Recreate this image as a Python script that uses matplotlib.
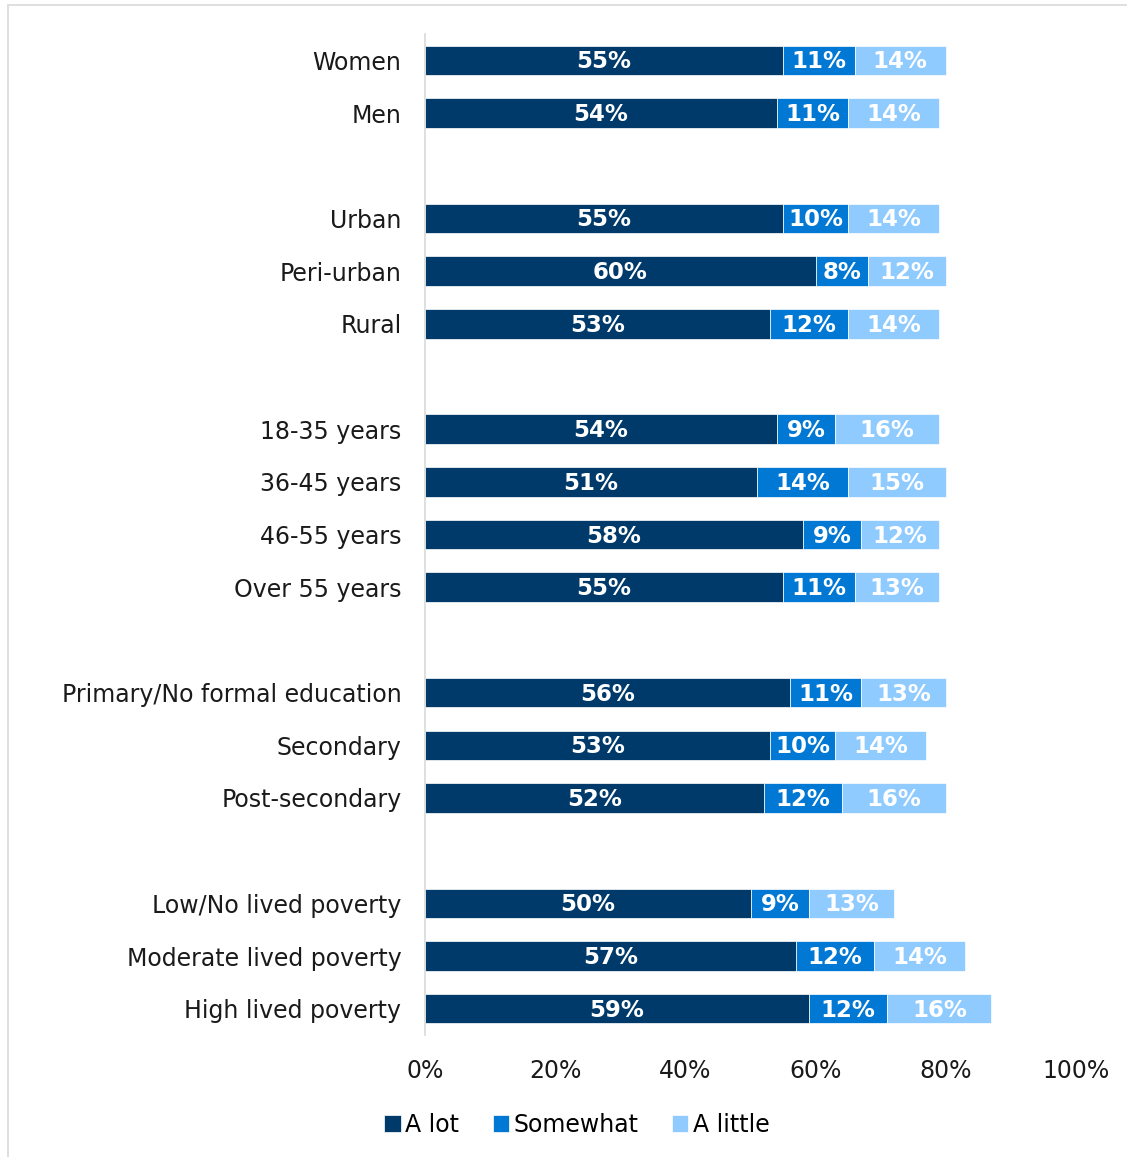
import matplotlib
matplotlib.use("Agg")
import matplotlib.pyplot as plt
from matplotlib.patches import Rectangle
import numpy as np

plt.rcParams['font.family'] = ['DejaVu Sans']

# Groups are separated by a blank row (None)
categories = [
    "Women", "Men", None,
    "Urban", "Peri-urban", "Rural", None,
    "18-35 years", "36-45 years", "46-55 years", "Over 55 years", None,
    "Primary/No formal education", "Secondary", "Post-secondary", None,
    "Low/No lived poverty", "Moderate lived poverty", "High lived poverty",
]
a_lot = [55, 54, None, 55, 60, 53, None, 54, 51, 58, 55, None, 56, 53, 52, None, 50, 57, 59]
somewhat = [11, 11, None, 10, 8, 12, None, 9, 14, 9, 11, None, 11, 10, 12, None, 9, 12, 12]
a_little = [14, 14, None, 14, 12, 14, None, 16, 15, 12, 13, None, 13, 14, 16, None, 13, 14, 16]

series_names = ["A lot", "Somewhat", "A little"]
colors = ["#003A6B", "#0078D4", "#8FCBFF"]

fig = plt.figure(figsize=(11.27, 11.57), dpi=100)
ax = fig.add_axes([0.3771, 0.1054, 0.5777, 0.8652])

# light frame around the chart area
fig.patches.append(Rectangle((0.007, -0.01), 1.0, 1.0057, transform=fig.transFigure,
                             fill=False, edgecolor="#D9D9D9", linewidth=1.2))

y = np.arange(len(categories))
left = np.zeros(len(categories))
for name, vals, col in zip(series_names, [a_lot, somewhat, a_little], colors):
    idx = [i for i, v in enumerate(vals) if v is not None]
    widths = np.array([vals[i] for i in idx], dtype=float)
    bars = ax.barh(y[idx], widths, left=left[idx], height=0.56, color=col,
                   edgecolor="white", linewidth=0.5, label=name)
    for b, w in zip(bars, widths):
        ax.text(b.get_x() + b.get_width() / 2, b.get_y() + b.get_height() / 2 + 0.03,
                f"{int(w)}%", ha="center", va="center", color="white",
                fontsize=16.5, fontweight="bold")
    left[idx] += widths

ax.set_ylim(len(categories) - 0.5, -0.5)
ax.set_xlim(0, 100)
ax.set_yticks([i for i, c in enumerate(categories) if c is not None])
ax.set_yticklabels([c for c in categories if c is not None], fontsize=17, color="#1A1A1A")
ax.set_xticks(np.arange(0, 101, 20))
ax.set_xticklabels([f"{t}%" for t in range(0, 101, 20)], fontsize=17, color="#1A1A1A")
ax.tick_params(axis="both", length=0)
ax.tick_params(axis="y", pad=17)
ax.tick_params(axis="x", pad=17)

for side in ["top", "right", "bottom"]:
    ax.spines[side].set_visible(False)
ax.spines["left"].set_color("#D9D9D9")
ax.spines["left"].set_linewidth(1.2)

fig.legend(loc="center", bbox_to_anchor=(0.512, 0.028), ncol=3, frameon=False,
           fontsize=17, handlelength=0.7, handleheight=0.7, handletextpad=0.2,
           columnspacing=1.4)

fig.savefig("out.png", dpi=100)
